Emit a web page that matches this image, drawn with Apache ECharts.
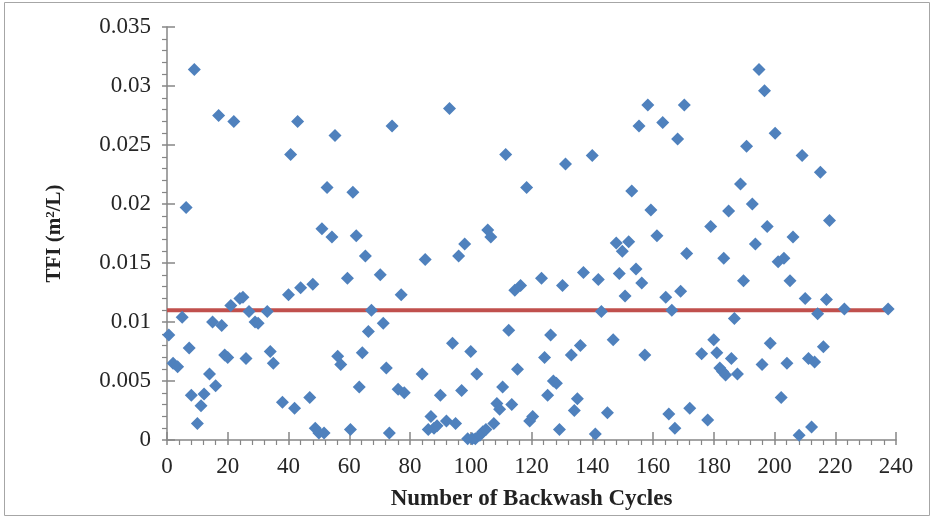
<!DOCTYPE html>
<html>
<head>
<meta charset="utf-8">
<script src="https://cdn.jsdelivr.net/npm/echarts@6/dist/echarts.min.js"></script>
<style>
  html, body { margin: 0; padding: 0; background: #fff; }
  #chart { width: 935px; height: 518px; }
</style>
</head>
<body>
<div id="chart"></div>
<script>
// backwash cycle number of each measurement
var cycles = [
    0.6, 2, 3.5, 5, 6.3, 7.3, 8, 9, 10, 11.2, 12.2, 14, 15, 16, 17, 18, 19, 20, 21, 22,
    24, 25, 26, 27, 29, 30, 33, 34, 35, 38, 40, 40.7, 42, 43, 44, 47, 48, 48.8, 50, 51,
    51.7, 52.7, 54.3, 55.3, 56.2, 57.2, 59.4, 60.4, 61.2, 62.3, 63.3, 64.3, 65.3, 66.3, 67.3, 70.2, 71.2, 72.2, 73.2, 74.1,
    76.1, 77.1, 78.1, 84, 85, 86, 86.9, 87.9, 88.9, 90, 92, 93, 94, 95, 96, 97, 98, 99, 100, 100.5,
    101.5, 102, 103, 104, 105, 105.6, 106.6, 107.6, 108.6, 109.5, 110.5, 111.5, 112.5, 113.5, 114.5, 115.4, 116.4, 118.4, 119.4, 120.4,
    123.3, 124.3, 125.3, 126.3, 127.2, 128.2, 129.2, 130.2, 131.2, 133.1, 134.1, 135.1, 136.1, 137.1, 140, 141, 142, 143, 145, 146.9,
    147.9, 148.9, 149.9, 150.8, 152, 153, 154.4, 155.4, 156.3, 157.3, 158.3, 159.3, 161.3, 163.2, 164.2, 165.2, 166.2, 167.2, 168.1, 169.1,
    170.3, 171.1, 172.1, 176, 178, 179, 180, 181, 182, 182.9, 183.3, 183.9, 184.9, 185.8, 186.8, 187.8, 188.8, 189.8, 190.8, 192.7,
    193.7, 194.9, 195.9, 196.7, 197.6, 198.6, 200.2, 201.2, 202.2, 203.1, 204.1, 205.1, 206.1, 208.1, 209.1, 210.1, 211.2, 212.2, 213.2, 214.2,
    215.1, 216.1, 217.1, 218.1, 223, 237.4
];

// TFI values (m2/L), same order as cycles
var tfi = [
    0.0089, 0.0065, 0.0062, 0.0104, 0.0197, 0.0078, 0.0038, 0.0314, 0.0014, 0.0029, 0.0039, 0.0056, 0.0100, 0.0046, 0.0275, 0.0097, 0.0072, 0.0070, 0.0114, 0.0270,
    0.0120, 0.0121, 0.0069, 0.0109, 0.0100, 0.0099, 0.0109, 0.0075, 0.0065, 0.0032, 0.0123, 0.0242, 0.0027, 0.0270, 0.0129, 0.0036, 0.0132, 0.0010, 0.0006, 0.0179,
    0.0006, 0.0214, 0.0172, 0.0258, 0.0071, 0.0064, 0.0137, 0.0009, 0.0210, 0.0173, 0.0045, 0.0074, 0.0156, 0.0092, 0.0110, 0.0140, 0.0099, 0.0061, 0.0006, 0.0266,
    0.0043, 0.0123, 0.0040, 0.0056, 0.0153, 0.0009, 0.0020, 0.0010, 0.0012, 0.0038, 0.0016, 0.0281, 0.0082, 0.0014, 0.0156, 0.0042, 0.0166, 0.0001, 0.0075, 0.0001,
    0.0001, 0.0056, 0.0004, 0.0007, 0.0009, 0.0178, 0.0172, 0.0014, 0.0031, 0.0026, 0.0045, 0.0242, 0.0093, 0.0030, 0.0127, 0.0060, 0.0131, 0.0214, 0.0016, 0.0020,
    0.0137, 0.0070, 0.0038, 0.0089, 0.0050, 0.0048, 0.0009, 0.0131, 0.0234, 0.0072, 0.0025, 0.0035, 0.0080, 0.0142, 0.0241, 0.0005, 0.0136, 0.0109, 0.0023, 0.0085,
    0.0167, 0.0141, 0.0160, 0.0122, 0.0168, 0.0211, 0.0145, 0.0266, 0.0133, 0.0072, 0.0284, 0.0195, 0.0173, 0.0269, 0.0121, 0.0022, 0.0110, 0.0010, 0.0255, 0.0126,
    0.0284, 0.0158, 0.0027, 0.0073, 0.0017, 0.0181, 0.0085, 0.0074, 0.0061, 0.0058, 0.0154, 0.0055, 0.0194, 0.0069, 0.0103, 0.0056, 0.0217, 0.0135, 0.0249, 0.0200,
    0.0166, 0.0314, 0.0064, 0.0296, 0.0181, 0.0082, 0.0260, 0.0151, 0.0036, 0.0154, 0.0065, 0.0135, 0.0172, 0.0004, 0.0241, 0.0120, 0.0069, 0.0011, 0.0066, 0.0107,
    0.0227, 0.0079, 0.0119, 0.0186, 0.0111, 0.0111
];

// average TFI line
var meanTfi = 0.011;
var meanFrom = 0;
var meanTo = 237.4;

var xTicks = { min: 0, max: 240, interval: 20 };
var yTicks = { min: 0, max: 0.035, interval: 0.005 };

var points = cycles.map(function (c, i) { return [c, tfi[i]]; });

var axisColor = '#868686';
var serif = '"Liberation Serif", "Times New Roman", serif';

var chart = echarts.init(document.getElementById('chart'));

var option = {
    backgroundColor: '#fff',
    animation: false,
    graphic: [{
        type: 'rect',
        shape: { x: 4.5, y: 2.5, width: 925, height: 513 },
        style: { fill: 'none', stroke: '#a6a6a6', lineWidth: 1 },
        silent: true
    }],
    grid: { left: 167, right: 39, top: 27, bottom: 78 },
    xAxis: [{
        type: 'value',
        min: xTicks.min, max: xTicks.max, interval: xTicks.interval,
        name: 'Number of Backwash Cycles',
        nameLocation: 'middle',
        nameGap: 48,
        nameTextStyle: { fontFamily: serif, fontSize: 23, fontWeight: 'bold', color: '#222' },
        axisLine: { lineStyle: { color: axisColor, width: 1.5 } },
        axisTick: { show: true, inside: false, length: 5, lineStyle: { color: axisColor, width: 1.5 } },
        minorTick: { show: true, splitNumber: 5, length: 5, lineStyle: { color: axisColor, width: 1.2 } },
        splitLine: { show: false },
        axisLabel: { fontFamily: serif, fontSize: 23, color: '#262626', margin: 15 }
    }, {
        // upward half of the major ticks
        type: 'value',
        position: 'bottom',
        min: xTicks.min, max: xTicks.max, interval: xTicks.interval,
        axisLine: { show: false },
        axisTick: { show: true, inside: true, length: 8, lineStyle: { color: axisColor, width: 1.5 } },
        axisLabel: { show: false },
        splitLine: { show: false }
    }],
    yAxis: [{
        type: 'value',
        min: yTicks.min, max: yTicks.max, interval: yTicks.interval,
        name: 'TFI (m{sup|2}/L)',
        nameLocation: 'middle',
        nameGap: 102,
        nameTextStyle: {
            fontFamily: serif, fontSize: 21, fontWeight: 'bold', color: '#222',
            rich: {
                sup: { fontFamily: serif, fontSize: 13, fontWeight: 'bold', color: '#222', verticalAlign: 'top', padding: [0, 0, 8, 0] }
            }
        },
        axisLine: { lineStyle: { color: axisColor, width: 1.5 } },
        axisTick: { show: true, inside: false, length: 5, lineStyle: { color: axisColor, width: 1.5 } },
        minorTick: { show: true, splitNumber: 5, length: 5, lineStyle: { color: axisColor, width: 1.2 } },
        splitLine: { show: false },
        axisLabel: {
            fontFamily: serif, fontSize: 23, color: '#262626', margin: 16,
            formatter: function (v) { return String(+v.toFixed(3)); }
        }
    }, {
        // rightward half of the major ticks
        type: 'value',
        position: 'left',
        min: yTicks.min, max: yTicks.max, interval: yTicks.interval,
        axisLine: { show: false },
        axisTick: { show: true, inside: true, length: 8, lineStyle: { color: axisColor, width: 1.5 } },
        axisLabel: { show: false },
        splitLine: { show: false }
    }],
    series: [{
        type: 'line',
        data: [[meanFrom, meanTfi], [meanTo, meanTfi]],
        symbol: 'none',
        lineStyle: { color: '#C0504D', width: 4 },
        z: 2
    }, {
        type: 'scatter',
        data: points,
        symbol: 'diamond',
        symbolSize: 13,
        itemStyle: { color: '#4F81BD', opacity: 1 },
        z: 3
    }]
};

chart.setOption(option);
</script>
</body>
</html>
